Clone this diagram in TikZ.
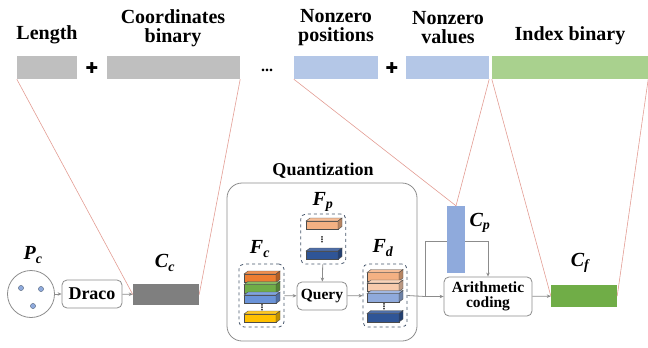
\documentclass[tikz,border=0pt]{standalone}
\usepackage{fontspec}
\setmainfont{Liberation Serif}
\newfontfamily\lserif{Liberation Serif}
\newfontfamily\djsym{DejaVu Sans}
\usetikzlibrary{arrows.meta}
\definecolor{barGray}{HTML}{BFBFBF}
\definecolor{barBlue}{HTML}{B4C7E7}
\definecolor{barGreen}{HTML}{A9D18E}
\definecolor{pinkLine}{HTML}{E39D94}
\definecolor{arrGray}{HTML}{8C8C8C}
\definecolor{ccGray}{HTML}{7F7F7F}
\definecolor{cpBlue}{HTML}{8FAADC}
\definecolor{cfGreen}{HTML}{70AD47}
\definecolor{cOrange}{HTML}{ED7D31}
\definecolor{cGreen}{HTML}{70AD47}
\definecolor{cBlue}{HTML}{6A93D8}
\definecolor{cYellow}{HTML}{FFC000}
\definecolor{cPeach}{HTML}{F4B183}
\definecolor{cLPeach}{HTML}{F8CBAD}
\definecolor{cLBlue}{HTML}{8FAADC}
\definecolor{cDBlue}{HTML}{2F5597}
\definecolor{dashBlue}{HTML}{44546A}
\newcommand\blk[3]{%
  \begin{scope}[shift={(#1,#2)}]
    \filldraw[fill=#3, draw=black!70, line width=0.4pt] (0,0) rectangle (32,8.5);
    \filldraw[fill=#3!85!white, draw=black!70, line width=0.4pt] (0,0) -- (4,-3) -- (36,-3) -- (32,0) -- cycle;
    \filldraw[fill=#3!75!black, draw=black!70, line width=0.4pt] (32,0) -- (36,-3) -- (36,5.5) -- (32,8.5) -- cycle;
  \end{scope}}
\begin{document}
\begin{tikzpicture}[x=1pt,y=-1pt,
  bar/.style={inner sep=0, minimum height=23},
  toplab/.style={font=\lserif\fontsize{20}{19}\selectfont\bfseries, align=center, inner sep=0},
  mlab/.style={font=\lserif\fontsize{20}{20}\selectfont\bfseries\itshape, inner sep=0},
  pink/.style={draw=pinkLine, line width=0.6pt},
  arr/.style={draw=arrGray, line width=0.8pt, -{Stealth[length=4pt,width=3.5pt]}},
  gline/.style={draw=arrGray, line width=0.8pt},
  rbox/.style={draw=arrGray, line width=0.8pt, rounded corners=5pt, fill=white, inner sep=0},
  dbox/.style={draw=dashBlue, dashed, line width=0.8pt, rounded corners=5pt, inner sep=0},
  vd/.style={font=\djsym\fontsize{8}{8}\selectfont\bfseries, inner sep=0},
  plus/.style={font=\djsym\fontsize{15}{15}\selectfont, inner sep=0}]
\useasboundingbox (0,0) rectangle (648,348);

% top bars
\node[bar, fill=barGray, minimum width=60] (len) at (47,67.5) {};
\node[bar, fill=barGray, minimum width=133] (coord) at (173.5,67.5) {};
\node[bar, fill=barBlue, minimum width=84] (pos) at (336,67.5) {};
\node[bar, fill=barBlue, minimum width=83] (val) at (447.5,67.5) {};
\node[bar, fill=barGreen, minimum width=156] (idx) at (570,67.5) {};
\node[plus] (p1) at (92,68) {✚};
\node[plus] (p2) at (392,68) {✚};
\node[font=\lserif\fontsize{16}{16}\selectfont\bfseries, inner sep=0] (dots) at (267,70) {...};

% top labels
\node[toplab, anchor=base] (lenl) at (47,39) {Length};
\node[toplab] (coordl) at (173,28) {Coordinates\\binary};
\node[toplab] (posl) at (336,28) {Nonzero\\positions};
\node[toplab] (vall) at (448,28) {Nonzero\\values};
\node[toplab, anchor=base] (idxl) at (570,40) {Index binary};

% bottom left
\node[circle, draw=arrGray, line width=0.8pt, minimum size=47, inner sep=0] (pc) at (31,294) {};
\foreach \p in {(21,288),(41,289),(33,306)}
  \filldraw[fill=cpBlue, draw=dashBlue, line width=0.3pt] \p circle (2.6);
\node[mlab] (pcl) at (33,255) {P\textsubscript{c}};
\node[rbox, minimum width=60, minimum height=28, font=\lserif\fontsize{18}{18}\selectfont\bfseries] (draco) at (92,294) {Draco};
\node[fill=ccGray, minimum width=66, minimum height=21, inner sep=0] (cc) at (166,294.5) {};
\node[mlab] (ccl) at (165,263) {C\textsubscript{c}};
\draw[arr] (pc) -- (draco);
\draw[arr] (draco) -- (cc);

% quantization
\node[draw=arrGray, line width=0.8pt, rounded corners=15pt, minimum width=190, minimum height=158, inner sep=0] (quant) at (322,262) {};
\node[font=\lserif\fontsize{18}{18}\selectfont\bfseries, inner sep=0] (quantl) at (323,171) {Quantization};
\node[dbox, minimum width=45, minimum height=50] (fp) at (323.3,239) {};
\node[dbox, minimum width=45, minimum height=63] (fc) at (261.5,295.5) {};
\node[dbox, minimum width=44, minimum height=63] (fd) at (385,295.5) {};
\node[mlab] (fpl) at (323,202) {F\textsubscript{p}};
\node[mlab] (fcl) at (260,249) {F\textsubscript{c}};
\node[mlab] (fdl) at (383,248) {F\textsubscript{d}};
% blocks Fc
\blk{244}{274}{cOrange}
\blk{244}{284.5}{cGreen}
\blk{244}{295}{cBlue}
\blk{244}{314}{cYellow}
\node[vd] (fcdots) at (262,307.5) {⋮};
% blocks Fp
\blk{306}{221}{cPeach}
\blk{306}{251}{cDBlue}
\node[vd] (fpdots) at (322,240) {⋮};
% blocks Fd
\blk{367}{272.5}{cPeach}
\blk{367}{283}{cLPeach}
\blk{367}{293.5}{cLBlue}
\blk{367}{313.5}{cDBlue}
\node[vd] (fddots) at (384,306.5) {⋮};
\node[rbox, minimum width=50, minimum height=28, font=\lserif\fontsize{15.5}{15.5}\selectfont\bfseries] (query) at (322,296) {Query};
\draw[arr] (fc) -- (query);
\draw[arr] (fp) -- (query);
\draw[arr] (query) -- (fd);

% arithmetic coding
\node[rbox, minimum width=88, minimum height=39, align=center, font=\lserif\fontsize{15.5}{15.5}\selectfont\bfseries] (ac) at (488,296.5) {Arithmetic\\coding};
\coordinate (j) at (425,296.5);
\coordinate (k) at (425,241);
\draw[gline] (fd.east) -- (j);
\draw[arr] (j) -- (ac.west);
\draw[arr] (j) -- (k) -| (ac.north);
\node[fill=cpBlue, minimum width=18, minimum height=67, inner sep=0] (cp) at (456,239.5) {};
\node[mlab] (cpl) at (480,223) {C\textsubscript{p}};
\node[fill=cfGreen, minimum width=66, minimum height=22, inner sep=0] (cf) at (584,296) {};
\node[mlab] (cfl) at (580,263) {C\textsubscript{f}};
\draw[arr] (ac) -- (cf);

% pink lines
\draw[pink] (len.south west) -- (cc.west);
\draw[pink] (coord.south east) -- (cc.east);
\draw[pink] (pos.south west) -- (cp.north);
\draw[pink] (val.south east) -- (cp.north);
\draw[pink] (idx.south west) -- (cf.west);
\draw[pink] (idx.south east) -- (cf.east);
\end{tikzpicture}
\end{document}
